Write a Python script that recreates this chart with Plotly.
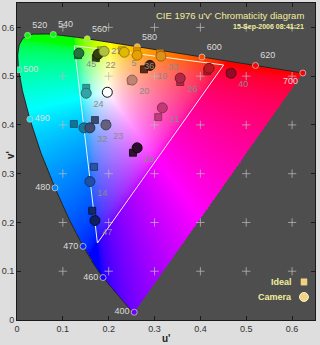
import numpy as np
import plotly.graph_objects as go

# ---------------- data ----------------
# CIE 1931 2-degree spectral locus (x, y)
wl = [380, 385, 390, 395, 400, 405, 410, 415, 420, 425, 430, 435, 440, 445, 450, 455,
      460, 465, 470, 475, 480, 485, 490, 495, 500, 505, 510, 515, 520, 525, 530, 535,
      540, 545, 550, 555, 560, 565, 570, 575, 580, 585, 590, 595, 600, 605, 610, 615,
      620, 625, 630, 635, 640, 645, 650, 655, 660, 665, 670, 680, 700]
loc_x = [0.1741, 0.1740, 0.1738, 0.1736, 0.1733, 0.1730, 0.1726, 0.1721, 0.1714, 0.1703,
         0.1689, 0.1669, 0.1644, 0.1611, 0.1566, 0.1510, 0.1440, 0.1355, 0.1241, 0.1096,
         0.0913, 0.0687, 0.0454, 0.0235, 0.0082, 0.0039, 0.0139, 0.0389, 0.0743, 0.1142,
         0.1547, 0.1929, 0.2296, 0.2658, 0.3016, 0.3373, 0.3731, 0.4087, 0.4441, 0.4788,
         0.5125, 0.5448, 0.5752, 0.6029, 0.6270, 0.6482, 0.6658, 0.6801, 0.6915, 0.7006,
         0.7079, 0.7140, 0.7190, 0.7230, 0.7260, 0.7283, 0.7300, 0.7311, 0.7320, 0.7334, 0.7347]
loc_y = [0.0050, 0.0050, 0.0049, 0.0049, 0.0048, 0.0048, 0.0048, 0.0048, 0.0051, 0.0058,
         0.0069, 0.0086, 0.0109, 0.0138, 0.0177, 0.0227, 0.0297, 0.0399, 0.0578, 0.0868,
         0.1327, 0.2007, 0.2950, 0.4127, 0.5384, 0.6548, 0.7502, 0.8120, 0.8338, 0.8262,
         0.8059, 0.7816, 0.7543, 0.7243, 0.6923, 0.6589, 0.6245, 0.5896, 0.5547, 0.5202,
         0.4866, 0.4544, 0.4242, 0.3965, 0.3725, 0.3514, 0.3340, 0.3197, 0.3083, 0.2993,
         0.2920, 0.2859, 0.2809, 0.2770, 0.2740, 0.2717, 0.2700, 0.2689, 0.2680, 0.2666, 0.2653]

label_wl = [400, 460, 470, 480, 490, 500, 520, 540, 560, 580, 600, 620, 700]
label_pos = ["middle left", "middle left", "middle left", "middle left", "middle right",
             "middle right", "top right", "top right", "top right", "top right",
             "top right", "top right", "bottom left"]

# sRGB gamut triangle (u', v')
gamut_u = [0.4507, 0.1250, 0.1754, 0.4507]
gamut_v = [0.5229, 0.5625, 0.1579, 0.5229]

# patches
patch_labels = ["45", "22", "27", "5", "36", "33", "19", "20", "26", "", "40", "21",
                "24", "", "29", "", "32", "23", "14", "47"]
patch_textpos = ["bottom right", "bottom right", "middle right", "bottom right", "bottom right",
                 "bottom right", "bottom right", "bottom right", "bottom right", "bottom right",
                 "bottom right", "bottom right", "bottom right", "bottom right", "bottom right",
                 "bottom right", "bottom right", "bottom right", "bottom right", "bottom right"]
ideal_u = [0.133, 0.172, 0.183, 0.229, 0.262, 0.312, 0.277, 0.249, 0.356, 0.415, 0.465, 0.308,
           0.151, 0.197, 0.253, 0.124, 0.170, 0.194, 0.168, 0.164]
ideal_v = [0.543, 0.537, 0.553, 0.553, 0.551, 0.547, 0.514, 0.490, 0.488, 0.510, 0.506, 0.416,
           0.476, 0.467, 0.343, 0.402, 0.410, 0.402, 0.314, 0.224]
cam_u = [0.135, 0.177, 0.190, 0.234, 0.262, 0.314, 0.290, 0.251, 0.356, 0.419, 0.467, 0.317,
         0.151, 0.197, 0.262, 0.146, 0.159, 0.194, 0.159, 0.170]
cam_v = [0.547, 0.545, 0.551, 0.549, 0.543, 0.541, 0.522, 0.492, 0.496, 0.516, 0.506, 0.435,
         0.465, 0.467, 0.353, 0.394, 0.394, 0.400, 0.284, 0.204]
ideal_col = ["#1f6b35", "#2d3a12", "#a3b83a", "#d9b300", "#e09a00", "#d98a1a", "#5a2c14",
             "#b97a6e", "#a8304e", "#b01c28", "#8c1028", "#b8407a", "#2f9c9c", "#f2f2f2",
             "#2e1432", "#137394", "#3b4a72", "#5e5a7e", "#2a55a0", "#14286a"]
cam_col = ["#24733a", "#33400f", "#b0c040", "#e0b800", "#e8a000", "#e09018", "#4a200c",
           "#c08474", "#b02844", "#b81a26", "#940c24", "#c03a76", "#34a4a4", "#ffffff",
           "#28102c", "#18789a", "#404c70", "#646080", "#2050a4", "#10205e"]
cam_line = ["#144a24", "#1a2408", "#7a8a20", "#a08000", "#a87000", "#a06008", "#2a1004",
            "#906050", "#801830", "#801018", "#600818", "#902858", "#207070", "#101010",
            "#100408", "#0c5070", "#283450", "#44405c", "#103474", "#080c38"]

# ---------------- helpers ----------------
def xy_to_uv(x, y):
    x = np.asarray(x, float); y = np.asarray(y, float)
    d = -2 * x + 12 * y + 3
    return 4 * x / d, 9 * y / d

M = np.array([[3.2406, -1.5372, -0.4986],
              [-0.9689, 1.8758, 0.0415],
              [0.0557, -0.2040, 1.0570]])

def uv_to_rgb(u, v):
    d = 6 * u - 16 * v + 12
    x = 9 * u / d
    y = 4 * v / d
    y = np.maximum(y, 1e-6)
    X = x / y
    Z = (1 - x - y) / y
    XYZ = np.stack([X, np.ones_like(X), Z], axis=-1)
    rgb = XYZ @ M.T
    rgb = np.clip(rgb, 0, None)
    mx = rgb.max(axis=-1, keepdims=True)
    rgb = rgb / np.maximum(mx, 1e-9)
    rgb = np.where(rgb <= 0.0031308, 12.92 * rgb, 1.055 * np.power(rgb, 1 / 2.4) - 0.055)
    return np.clip(rgb * 255, 0, 255)

loc_u, loc_v = xy_to_uv(loc_x, loc_y)

# background colour fill inside locus
RANGE = 0.65
nx, ny = 300, 318
du, dv = RANGE / nx, RANGE / ny
U, V = np.meshgrid((np.arange(nx) + 0.5) * du, (np.arange(ny) + 0.5) * dv)
inside = np.zeros(U.shape, bool)
pu, pv = list(loc_u), list(loc_v)
n = len(pu)
j = n - 1
for i in range(n):
    xi, yi, xj, yj = pu[i], pv[i], pu[j], pv[j]
    cond = ((yi > V) != (yj > V)) & (U < (xj - xi) * (V - yi) / (yj - yi + 1e-12) + xi)
    inside ^= cond
    j = i
rgb = uv_to_rgb(U, V)
z = np.zeros((ny, nx, 4))
z[..., :3] = np.round(rgb)
z[..., 3] = inside.astype(float)
z = z.tolist()

fig = go.Figure()
fig.add_trace(go.Image(z=z, colormodel="rgba", x0=du / 2, dx=du, y0=dv / 2, dy=dv,
                       hoverinfo="skip"))

# locus outline
fig.add_trace(go.Scatter(x=loc_u, y=loc_v, mode="lines",
                         line=dict(color="#262626", width=1), hoverinfo="skip"))

# grid crosses
ticks = [0.1, 0.2, 0.3, 0.4, 0.5, 0.6]
cx = [a for a in ticks for b in ticks]
cy = [b for a in ticks for b in ticks]
fig.add_trace(go.Scatter(x=cx, y=cy, mode="markers",
                         marker=dict(symbol="cross-thin", size=6,
                                     line=dict(color="rgba(185,185,185,0.75)", width=1)),
                         hoverinfo="skip"))

# gamut triangle
fig.add_trace(go.Scatter(x=gamut_u, y=gamut_v, mode="lines",
                         line=dict(color="#f4f4f4", width=1), hoverinfo="skip"))

# wavelength markers
idx = [wl.index(w) for w in label_wl]
lu = np.array([loc_u[i] for i in idx]); lv = np.array([loc_v[i] for i in idx])
lrgb = uv_to_rgb(lu, lv)
lcols = ["rgb(%d,%d,%d)" % tuple(c) for c in lrgb]
for k in range(len(label_wl)):
    fig.add_trace(go.Scatter(x=[lu[k]], y=[lv[k]], mode="markers+text",
                             text=[str(label_wl[k])], textposition=label_pos[k],
                             textfont=dict(size=9, color="#dcdcdc", family="Liberation Sans"),
                             marker=dict(size=6, color=lcols[k],
                                         line=dict(color="#c8c8c8", width=0.8)),
                             hoverinfo="skip"))

# ideal squares
fig.add_trace(go.Scatter(x=ideal_u, y=ideal_v, mode="markers",
                         marker=dict(symbol="square", size=7, color=ideal_col,
                                     line=dict(color=cam_line, width=0.8)),
                         hoverinfo="skip"))
# camera circles with labels
fig.add_trace(go.Scatter(x=cam_u, y=cam_v, mode="markers+text",
                         text=patch_labels, textposition=patch_textpos,
                         textfont=dict(size=9, color="#8a8a8a", family="Liberation Sans"),
                         marker=dict(symbol="circle", size=10, color=cam_col,
                                     line=dict(color=cam_line, width=1)),
                         hoverinfo="skip"))

ax_common = dict(range=[0, RANGE], autorange=False, showgrid=False, zeroline=False,
                 showline=True, linecolor="#1a1a1a", linewidth=1, mirror="ticks",
                 ticks="inside", ticklen=4, tickcolor="#1a1a1a",
                 tickfont=dict(size=9, color="#333333", family="Liberation Sans"),
                 tickvals=[0, 0.1, 0.2, 0.3, 0.4, 0.5, 0.6],
                 ticktext=["0", "0.1", "0.2", "0.3", "0.4", "0.5", "0.6"],
                 fixedrange=True)

fig.update_layout(
    width=320, height=345,
    margin=dict(l=17, r=5, t=3, b=25),
    paper_bgcolor="#dedede", plot_bgcolor="#4e4e4e",
    showlegend=False,
    xaxis=dict(**ax_common),
    yaxis=dict(**ax_common, scaleanchor=False),
    font=dict(family="Liberation Sans"),
)

pale = "#f0ee9c"
ann = [
    dict(text="CIE 1976 u'v' Chromaticity diagram", x=0.97, y=0.962, xanchor="right",
         yanchor="middle", font=dict(size=9.5, color=pale)),
    dict(text="<b>15-Sep-2006 08:41:21</b>", x=0.97, y=0.924, xanchor="right",
         yanchor="middle", font=dict(size=7, color=pale)),
    dict(text="<b>Ideal</b>", x=0.93, y=0.12, xanchor="right", yanchor="middle",
         font=dict(size=9, color=pale)),
    dict(text="<b>Camera</b>", x=0.928, y=0.0726, xanchor="right", yanchor="middle",
         font=dict(size=9, color=pale)),
    dict(text="<b>u'</b>", x=0.5, y=-0.057, xanchor="center", yanchor="middle",
         font=dict(size=10, color="#222222")),
    dict(text="<b>v'</b>", x=-0.024, y=0.52, xanchor="center", yanchor="middle",
         textangle=-90, font=dict(size=10, color="#222222")),
]
for a in ann:
    a.update(xref="paper", yref="paper", showarrow=False)
fig.update_layout(annotations=ann)

fig.update_layout(shapes=[
    dict(type="rect", xref="paper", yref="paper", x0=0.953, x1=0.973, y0=0.110, y1=0.130,
         fillcolor="#f2d07a", line=dict(color="#f8e8a0", width=0.5)),
    dict(type="circle", xref="paper", yref="paper", x0=0.948, x1=0.978, y0=0.0585, y1=0.0867,
         fillcolor="#f0d488", line=dict(color="#fff4c0", width=1)),
])

fig.write_html("out.html")
